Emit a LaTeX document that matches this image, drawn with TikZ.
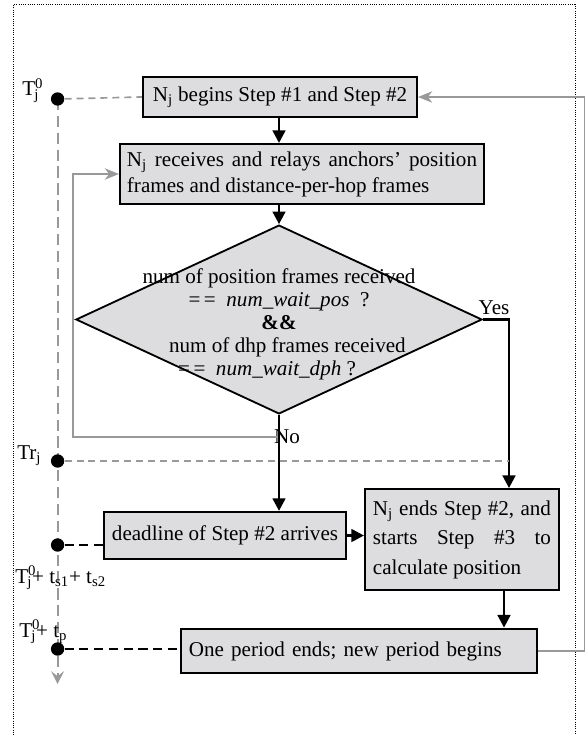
\documentclass[tikz,border=0pt]{standalone}
\usepackage{fontspec}
\setmainfont{Liberation Serif}
\usetikzlibrary{arrows.meta,shapes.geometric}
\definecolor{boxgray}{HTML}{DDDDDF}
\definecolor{linegray}{HTML}{999999}

\begin{document}
\begin{tikzpicture}[x=0.025cm, y=-0.025cm, font=\fontsize{15}{21}\selectfont,
  box/.style={draw, fill=boxgray, line width=1.4pt, inner ysep=0pt},
  flow/.style={-{Triangle[length=9pt,width=9pt]}, line width=1.9pt},
  back/.style={draw=linegray, line width=1.4pt, -{Stealth[length=10pt,width=8pt,inset=3pt]}},
  tick/.style={circle, fill=black, inner sep=0pt, minimum size=9.5pt},
  gdash/.style={draw=linegray, line width=1.2pt, dash pattern=on 5pt off 3.5pt},
  kdash/.style={line width=1.4pt, dash pattern=on 6.5pt off 4pt}]
\useasboundingbox (0,0) rectangle (586,735);
\draw[densely dotted, line width=0.6pt] (13.5,735) -- (13.5,4.5) -- (575,4.5) -- (575,735);

% flow chart
\node [box, minimum width=6.85cm, minimum height=1.0cm] (begin) at (280,97) {N\textsubscript{j} begins Step \#1 and Step \#2};
\node [box, text width=8.75cm, inner xsep=0.175cm, minimum height=1.5cm, align=justify,
  font=\fontsize{15}{18.5}\selectfont] (relay) at (302,174)
  {N\textsubscript{j} receives and relays anchors' position\linebreak frames and distance-per-hop frames};
\node [diamond, draw, fill=boxgray, line width=1.3pt, inner sep=0pt, minimum width=10.15cm, minimum height=4.72cm] (check) at (279,319.5) {};
\node [align=center, font=\fontsize{15}{16.4}\selectfont] (cond) at (279,324)
  {num of position frames received\\
   =\,=~~\textit{num\_wait\_pos}~~?\hspace*{34pt}\\
   \textbf{\&\&}\hspace*{7pt}\\
   \hspace*{12pt}num of dhp frames received\\
   =\,=~~\textit{num\_wait\_dph}~?\hspace*{17pt}};
\node [box, minimum width=6.03cm, minimum height=1.18cm] (deadline) at (225,535.5) {deadline of Step \#2 arrives};
\node [box, text width=4.45cm, inner xsep=0.2cm, minimum height=2.52cm, align=justify] (calc) at (462,539.5)
  {N\textsubscript{j} ends Step \#2, and\linebreak starts Step \#3 to\linebreak calculate position};
\node [box, text width=8.5cm, inner xsep=0.21cm, minimum height=1.12cm, align=left] (period) at (359,651) {One period ends; new period begins};
\node (yes) at (494,308) {Yes};
\node (no) at (287,437) {No};

\coordinate (nobend) at (279,437);
\coordinate (loopL) at (73,437);
\coordinate (yescol) at (509,319.5);
\coordinate (dropB) at (504,600);
\coordinate (loopR) at (584.5,400);

\draw[back] (nobend) -- (loopL) |- (relay.west);
\draw[back] (period.east) -| (loopR) |- (begin.east);
\draw[flow] (begin.south -| check.north) -- (relay.north -| check.north);
\draw[flow] (relay.south -| check.north) -- (check.north);
\draw[flow] (check.south) -- (check.south |- deadline.north);
\draw[flow] (check.east) -- (yescol) -- (yescol |- calc.north);
\draw[flow] (deadline.east) -- (deadline.east -| calc.west);
\draw[flow] (calc.south -| dropB) -- (period.north -| dropB);

% time line
\coordinate (tEnd) at (57.6,684);
\draw[gdash, line width=1.4pt, dash pattern=on 8pt off 4pt, -{Stealth[length=9pt,width=9pt,inset=3.5pt]}] (57.6,99) -- (tEnd);
\node [tick] (tA) at (57.6,99) {};
\node [tick] (tB) at (57.6,461) {};
\node [tick] (tC) at (57.6,545) {};
\node [tick] (tD) at (57.6,649) {};
\draw[gdash] (tA) -- (begin.west);
\draw[gdash] (tB) -- (tB -| yescol);
\draw[kdash] (tC) -- (tC -| deadline.west);
\draw[kdash] (tD) -- (tD -| period.west);

\node [anchor=base west, inner sep=0pt] (lblA) at (22,96) {T\textsuperscript{0}\kern-0.42em\textsubscript{j}};
\node [anchor=base west, inner sep=0pt] (lblB) at (17,459) {Tr\textsubscript{j}};
\node [anchor=base west, inner sep=0pt] (lblC) at (15,583) {T\textsuperscript{0}\kern-0.42em\textsubscript{j}+ t\textsubscript{s1}+ t\textsubscript{s2}};
\node [anchor=base west, inner sep=0pt] (lblD) at (19,637) {T\textsuperscript{0}\kern-0.42em\textsubscript{j}+ t\textsubscript{p}};
\end{tikzpicture}
\end{document}
